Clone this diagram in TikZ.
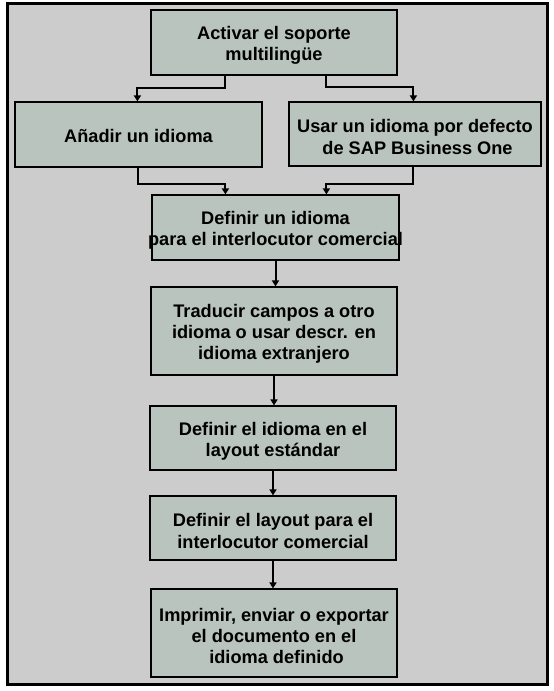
\documentclass[tikz,border=0pt]{standalone}
\usepackage{fontspec}
\setmainfont{Liberation Sans}
\usetikzlibrary{arrows.meta,calc}
\definecolor{bggray}{RGB}{204,204,204}
\definecolor{boxfill}{RGB}{185,196,191}
\tikzset{
  stepbox/.style={draw=black, line width=1.2pt, fill=boxfill, inner sep=0pt},
  steptext/.style={inner sep=0pt, align=center, font=\bfseries\fontsize{18.2}{21.2}\selectfont},
  conn/.style={draw=black, line width=2pt, -{Triangle[width=7pt,length=6pt]}}
}
\begin{document}
\begin{tikzpicture}[x=1pt,y=-1pt]
\useasboundingbox[fill=white] (0,0) rectangle (554,691);
\draw[fill=bggray, line width=3pt] (7,3) rectangle (547,684);

\node[stepbox, minimum width=246pt, minimum height=65pt] (b1) at (274,42.5) {};
\node[stepbox, minimum width=247pt, minimum height=65pt] (b2) at (138.5,134.5) {};
\node[stepbox, minimum width=252pt, minimum height=64pt] (b3) at (415,134) {};
\node[stepbox, minimum width=247pt, minimum height=65pt] (b4) at (275.5,227.5) {};
\node[stepbox, minimum width=246pt, minimum height=88pt] (b5) at (274,331) {};
\node[stepbox, minimum width=246pt, minimum height=64pt] (b6) at (273,438) {};
\node[stepbox, minimum width=246pt, minimum height=64pt] (b7) at (273,528) {};
\node[stepbox, minimum width=246pt, minimum height=88pt] (b8) at (274,633) {};

\node[steptext] (t1) at ([yshift=-3pt]b1.center) {Activar el soporte\\multilingüe};
\node[steptext] (t2) at ([yshift=-1.5pt]b2.center) {Añadir un idioma};
\node[steptext] (t3) at ([yshift=-3pt]b3.center) {Usar un idioma por defecto\\\ de SAP Business One};
\node[steptext] (t4) at ([yshift=-3pt]b4.center) {Definir un idioma\\\makebox[240pt][c]{para el interlocutor comercial}};
\node[steptext] (t5) at ([yshift=-3pt]b5.center) {Traducir campos a otro\\idioma o usar descr. en\\idioma extranjero};
\node[steptext] (t6) at ([yshift=-3pt]b6.center) {Definir el idioma en el\\layout estándar};
\node[steptext] (t7) at ([yshift=-3pt]b7.center) {Definir el layout para el\\interlocutor comercial};
\node[steptext] (t8) at ([yshift=-3pt]b8.center) {Imprimir, enviar o exportar\\el documento en el\\\ idioma definido};

\draw[conn] ([xshift=75pt]b1.south west) -- ++(0,12) -| ([xshift=123pt]b2.north west);
\draw[conn] ([xshift=176pt]b1.south west) -- ++(0,11) -| ([xshift=125pt]b3.north west);
\draw[conn] ([xshift=124pt]b2.south west) -- ++(0,16) -| ([xshift=74pt]b4.north west);
\draw[conn] ([xshift=125pt]b3.south west) -- ++(0,17) -| ([xshift=175pt]b4.north west);
\draw[conn] (b4.south) -- (b4.south |- b5.north);
\draw[conn] (b5.south) -- (b5.south |- b6.north);
\draw[conn] (b6.south) -- (b6.south |- b7.north);
\draw[conn] (b7.south) -- (b7.south |- b8.north);
\end{tikzpicture}
\end{document}
